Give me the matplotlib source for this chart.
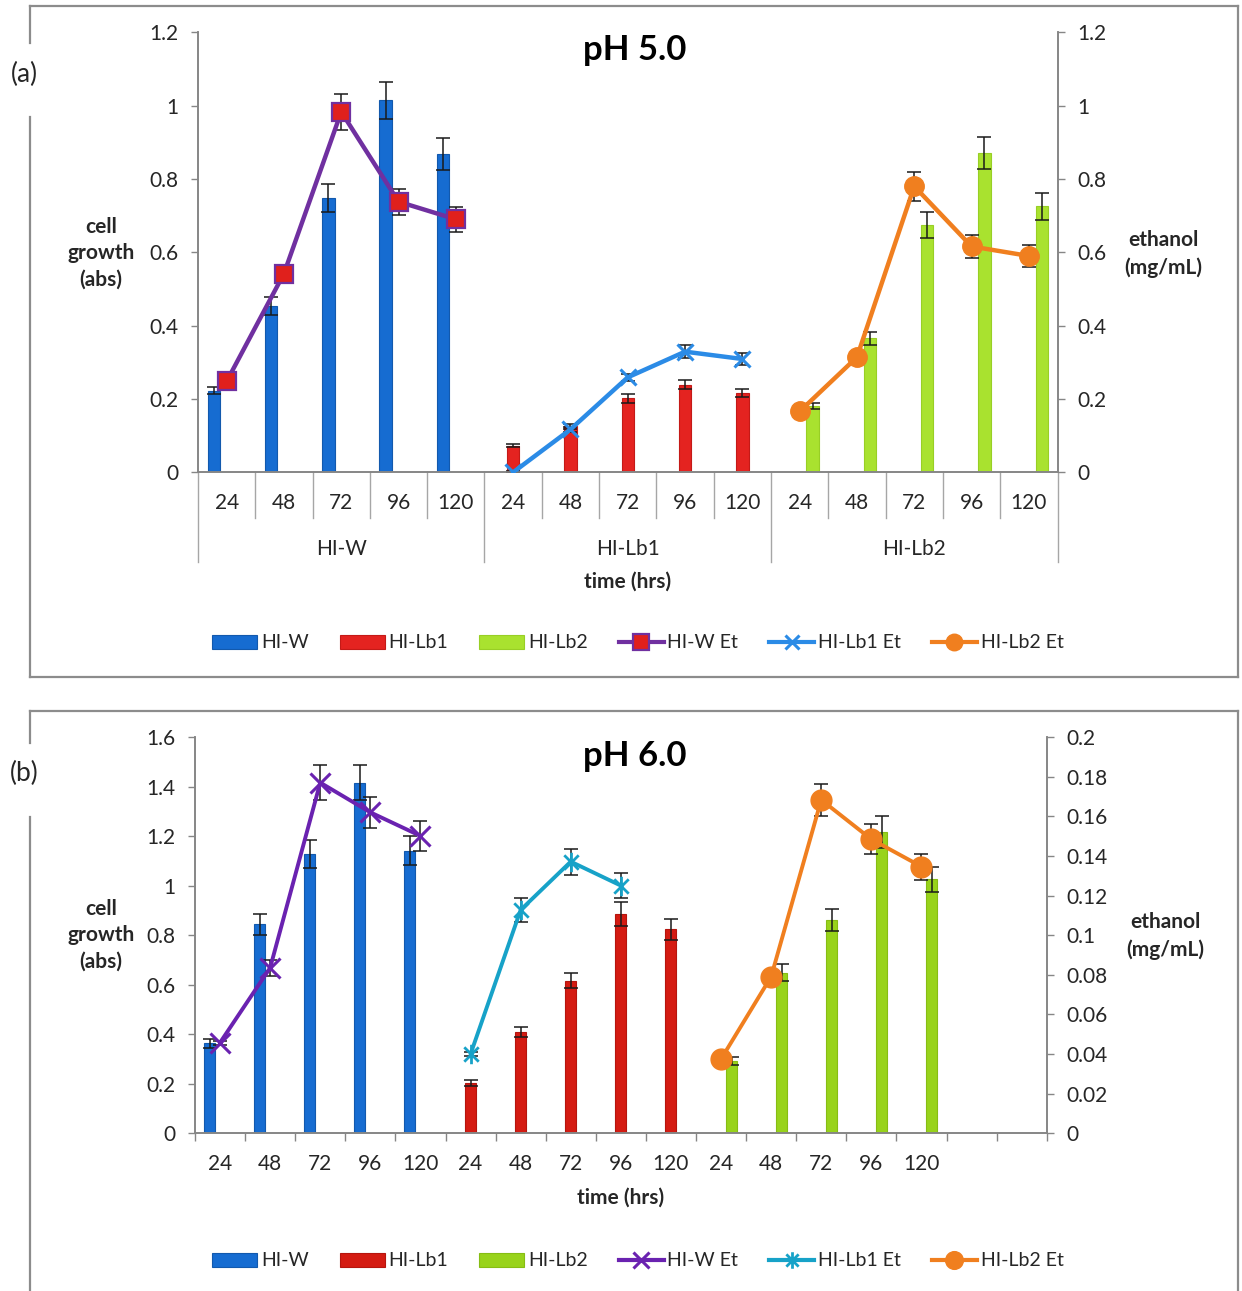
import numpy as np
import matplotlib
matplotlib.use('Agg')
import matplotlib.pyplot as plt
from matplotlib.lines import Line2D
from matplotlib.patches import Patch
from matplotlib.path import Path
from matplotlib.ticker import FuncFormatter, MultipleLocator

plt.rcParams['font.family'] = ['Lato', 'DejaVu Sans']

# ---- data ----
hours = ['24', '48', '72', '96', '120']
strains = ['HI-W', 'HI-Lb1', 'HI-Lb2']

# pH 5.0 : cell growth (bars, left axis)
a_w = [0.223, 0.453, 0.749, 1.014, 0.869]
a_w_err = [0.010, 0.024, 0.038, 0.051, 0.044]
a_lb1 = [0.073, 0.125, 0.202, 0.239, 0.217]
a_lb1_err = [0.005, 0.008, 0.012, 0.012, 0.011]
a_lb2 = [0.181, 0.366, 0.674, 0.870, 0.725]
a_lb2_err = [0.008, 0.018, 0.035, 0.044, 0.036]
# pH 5.0 : ethanol (lines, right axis)
a_w_et = [0.248, 0.542, 0.983, 0.738, 0.690]
a_w_et_err = [0.008, 0.015, 0.049, 0.035, 0.034]
a_lb1_et = [0.0, 0.117, 0.259, 0.329, 0.309]
a_lb1_et_err = [0.003, 0.006, 0.010, 0.017, 0.016]
a_lb2_et = [0.166, 0.314, 0.780, 0.616, 0.590]
a_lb2_et_err = [0.005, 0.010, 0.039, 0.032, 0.029]

# pH 6.0 : cell growth
b_w = [0.364, 0.844, 1.128, 1.417, 1.142]
b_w_err = [0.019, 0.044, 0.056, 0.072, 0.058]
b_lb1 = [0.203, 0.409, 0.617, 0.886, 0.825]
b_lb1_err = [0.011, 0.020, 0.031, 0.049, 0.042]
b_lb2 = [0.292, 0.649, 0.862, 1.217, 1.026]
b_lb2_err = [0.015, 0.034, 0.043, 0.064, 0.051]
# pH 6.0 : ethanol
b_w_et = [0.0458, 0.0836, 0.1771, 0.1621, 0.1502]
b_w_et_err = [0.001, 0.0041, 0.0089, 0.0080, 0.0075]
b_lb1_et = [0.0400, 0.1128, 0.1372, 0.1251, np.nan]
b_lb1_et_err = [0.001, 0.0059, 0.0065, 0.0065, np.nan]
b_lb2_et = [0.0375, 0.0791, 0.1684, 0.1485, 0.1347]
b_lb2_et_err = [0.001, 0.0030, 0.0082, 0.0076, 0.0066]

W, H = 1242, 1291
TXT = '#262626'
GREY = '#868686'


def fx(px):
    return px / W


def fy(py):
    return 1 - py / H


# excel like "*" marker
star = Path([(-1, -1), (1, 1), (-1, 1), (1, -1), (0, -1.35), (0, 1.35)],
            [Path.MOVETO, Path.LINETO] * 3)

fig = plt.figure(figsize=(W / 100, H / 100), dpi=100)


def frame(top, bottom, gap0, gap1):
    kw = dict(transform=fig.transFigure, color='#8c8c8c', lw=1.6)
    x0, x1 = fx(30), fx(1238)
    fig.add_artist(Line2D([x0, x1], [fy(top), fy(top)], **kw))
    fig.add_artist(Line2D([x0, x1], [fy(bottom), fy(bottom)], **kw))
    fig.add_artist(Line2D([x1, x1], [fy(top), fy(bottom)], **kw))
    fig.add_artist(Line2D([x0, x0], [fy(top), fy(gap0)], **kw))
    fig.add_artist(Line2D([x0, x0], [fy(gap1), fy(bottom)], **kw))


def panel(box, ncat, ymax_l, step_l, ymax_r, step_r, bars, bar_err, bar_col,
          ets, et_err, et_style, boff, bw, lw_line):
    left, top, right, bottom = box
    ax = fig.add_axes([fx(left), fy(bottom), fx(right) - fx(left), (bottom - top) / H])
    ax2 = ax.twinx()
    for g in range(3):
        xc = np.arange(5) + 5 * g
        xb = xc + (g - 1) * boff
        ax.bar(xb, bars[g], bw, color=bar_col[g][0], edgecolor=bar_col[g][1],
               lw=0.8, zorder=2)
        ax.errorbar(xb, bars[g], yerr=bar_err[g], fmt='none', ecolor='#1a1a1a',
                    elinewidth=1.1, capsize=5, capthick=1.1, zorder=3)
        st = et_style[g]
        ax2.errorbar(xc, ets[g], yerr=et_err[g], fmt='none', ecolor='#1a1a1a',
                     elinewidth=1.1, capsize=5, capthick=1.1, zorder=2)
        ax2.plot(xc, ets[g], color=st['c'], lw=lw_line, marker=st['m'],
                 ms=st['ms'], mfc=st['mfc'], mec=st['mec'], mew=st['mew'],
                 zorder=3, solid_capstyle='round')
    for a, ymax, step in ((ax, ymax_l, step_l), (ax2, ymax_r, step_r)):
        a.set_xlim(-0.5, ncat - 0.5)
        a.set_ylim(0, ymax)
        a.yaxis.set_major_locator(MultipleLocator(step))
        a.yaxis.set_major_formatter(FuncFormatter(lambda v, p: f'{v:g}'))
        a.tick_params(axis='y', length=5, width=1, color=GREY, pad=9,
                      labelsize=15, labelcolor=TXT)
        for s in a.spines.values():
            s.set_color(GREY)
            s.set_linewidth(1.2)
        a.spines['top'].set_visible(False)
    ax.set_facecolor('none')
    return ax, ax2


# ================= (a) pH 5.0 =================
frame(6, 677, 43, 117)
fig.text(fx(24), fy(74), '(a)', fontsize=19, color=TXT, ha='center', va='center')

style_a = [
    dict(c='#7030a0', m='s', ms=13, mfc='#e0201c', mec='#7030a0', mew=1.6),
    dict(c='#2b8be6', m='x', ms=12, mfc='none', mec='#2b8be6', mew=2.2),
    dict(c='#f07f1f', m='o', ms=14, mfc='#f07f1f', mec='#f07f1f', mew=1),
]
bcol_a = [('#166cd1', '#1259ad'), ('#e42320', '#c41a17'), ('#a9e22f', '#98cf25')]
ax, ax2 = panel((198, 32.3, 1057.5, 472.3), 15, 1.2, 0.2, 1.2, 0.2,
                [a_w, a_lb1, a_lb2], [a_w_err, a_lb1_err, a_lb2_err], bcol_a,
                [a_w_et, a_lb1_et, a_lb2_et],
                [a_w_et_err, a_lb1_et_err, a_lb2_et_err], style_a,
                0.225, 0.215, 3.2)

# multi level category axis
ax.set_xticks(np.arange(15))
ax.set_xticklabels(hours * 3)
ax.tick_params(axis='x', length=0, pad=15, labelsize=15, labelcolor=TXT)
ax2.tick_params(axis='x', length=0)
trans = ax.get_xaxis_transform()
hpx = 440.0
for k in range(16):
    depth = 90 if k % 5 == 0 else 45.5
    ax.add_line(Line2D([k - 0.5, k - 0.5], [0, -depth / hpx], transform=trans,
                       color='#a6a6a6', lw=1, clip_on=False))
for g, name in enumerate(strains):
    ax.text(5 * g + 2, -77 / hpx, name, transform=trans, ha='center', va='center',
            fontsize=15, color=TXT)
ax.text(7, -109.5 / hpx, 'time (hrs)', transform=trans, ha='center', va='center',
        fontsize=15, fontweight='bold', color=TXT)

fig.text(fx(635), fy(50), 'pH 5.0', fontsize=25, fontweight='bold', color='black',
         ha='center', va='center')
fig.text(fx(101), fy(253), 'cell\ngrowth\n(abs)', fontsize=15, fontweight='bold',
         color=TXT, ha='center', va='center', linespacing=1.4)
fig.text(fx(1163), fy(254), 'ethanol\n(mg/mL)', fontsize=15, fontweight='bold',
         color=TXT, ha='center', va='center', linespacing=1.4)


def legend(y, styles, bcol):
    handles = [Patch(facecolor=bcol[i][0], edgecolor=bcol[i][1], lw=0.8)
               for i in range(3)]
    for st in styles:
        handles.append(Line2D([], [], color=st['c'], lw=3, marker=st['m'],
                              ms=st['ms'] * 0.85, mfc=st['mfc'], mec=st['mec'],
                              mew=st['mew']))
    labels = strains + [s + ' Et' for s in strains]
    fig.legend(handles, labels, loc='center', bbox_to_anchor=(fx(638), fy(y)),
               ncol=6, frameon=False, fontsize=14, handlelength=2.3,
               handletextpad=0.2, columnspacing=1.6, labelcolor=TXT)


legend(643, style_a, bcol_a)

# ================= (b) pH 6.0 =================
frame(711, 1300, 743, 817)
fig.text(fx(24), fy(773), '(b)', fontsize=19, color=TXT, ha='center', va='center')

style_b = [
    dict(c='#6a22b0', m='x', ms=14, mfc='none', mec='#6a22b0', mew=2.2),
    dict(c='#17a2c8', m=star, ms=14, mfc='none', mec='#17a2c8', mew=2.0),
    dict(c='#f07f1f', m='o', ms=15, mfc='#f07f1f', mec='#f07f1f', mew=1),
]
bcol_b = [('#166cd1', '#1259ad'), ('#d41b12', '#b5150e'), ('#98d31b', '#86bd14')]
bx, bx2 = panel((195, 737.3, 1046.7, 1133.3), 17, 1.6, 0.2, 0.2, 0.02,
                [b_w, b_lb1, b_lb2], [b_w_err, b_lb1_err, b_lb2_err], bcol_b,
                [b_w_et, b_lb1_et, b_lb2_et],
                [b_w_et_err, b_lb1_et_err, b_lb2_et_err], style_b,
                0.21, 0.22, 2.8)

bx.set_xticks(np.arange(17))
bx.set_xticklabels(hours * 3 + ['', ''])
bx.set_xticks(np.arange(18) - 0.5, minor=True)
bx.tick_params(axis='x', which='major', length=0, pad=15, labelsize=15, labelcolor=TXT)
bx.tick_params(axis='x', which='minor', length=6, width=1, color=GREY)
bx2.tick_params(axis='x', length=0)
bx.set_xlabel('time (hrs)', fontsize=15, fontweight='bold', color=TXT, labelpad=10)

fig.text(fx(635), fy(756), 'pH 6.0', fontsize=25, fontweight='bold', color='black',
         ha='center', va='center')
fig.text(fx(101), fy(935), 'cell\ngrowth\n(abs)', fontsize=15, fontweight='bold',
         color=TXT, ha='center', va='center', linespacing=1.4)
fig.text(fx(1165), fy(936), 'ethanol\n(mg/mL)', fontsize=15, fontweight='bold',
         color=TXT, ha='center', va='center', linespacing=1.4)

legend(1261, style_b, bcol_b)

fig.savefig('out.png', dpi=100, facecolor='white')
